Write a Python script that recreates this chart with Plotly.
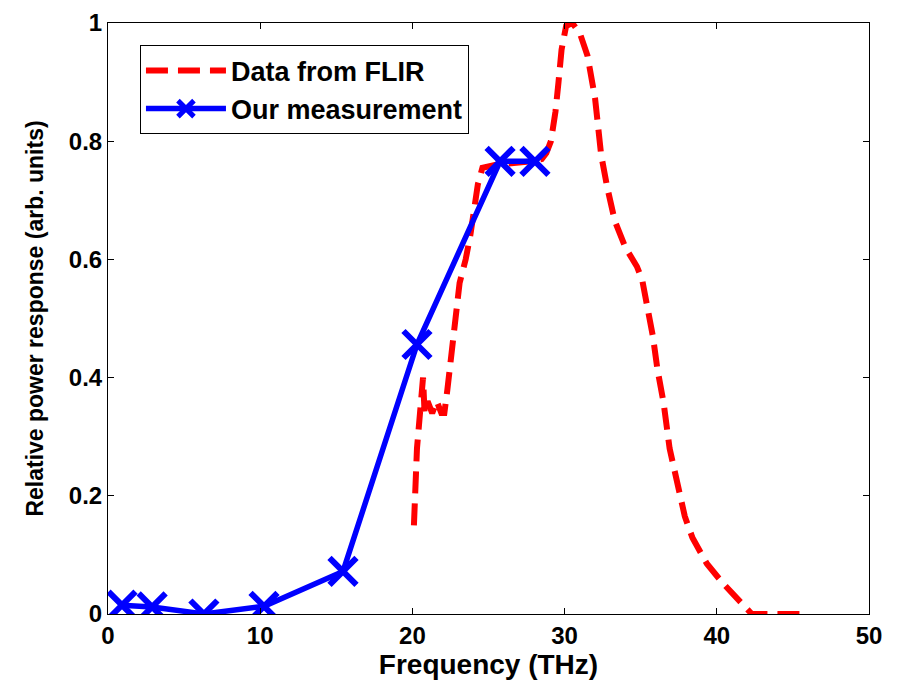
import plotly.graph_objects as go

# Data from FLIR (red dashed)
flir_x = [20.1, 20.3, 20.5, 20.7, 20.8, 21.0, 21.3, 21.6, 21.9, 22.1, 22.3, 22.6, 22.8, 23.1, 23.5, 23.8,
          24.3, 24.6, 25.5, 26.5, 27.5, 28.5, 28.8, 29.1, 29.4, 29.6, 29.8, 30.1, 30.5, 31.0, 31.5,
          32.0, 32.4, 32.8, 33.3, 34.0, 34.75, 35.1, 35.4, 35.8, 36.1, 36.5, 36.9, 37.4, 37.9, 38.4,
          39.35, 40.4, 41.5, 42.3, 43.0, 44.0, 45.9]
flir_y = [0.15, 0.28, 0.34, 0.40, 0.34, 0.36, 0.34, 0.36, 0.34, 0.34, 0.38, 0.44, 0.487, 0.56, 0.60, 0.64,
          0.727, 0.755, 0.76, 0.762, 0.765, 0.77, 0.78, 0.80, 0.85, 0.90, 0.955, 0.995, 1.0, 0.983, 0.945,
          0.873, 0.777, 0.722, 0.665, 0.62, 0.588, 0.565, 0.526, 0.47, 0.414, 0.358, 0.28, 0.22, 0.165, 0.129,
          0.085, 0.052, 0.023, 0.0, 0.0, 0.0, 0.0]

# Our measurement (blue, x markers)
meas_x = [0.92, 2.9, 6.3, 10.25, 15.44, 20.3, 25.76, 28.05]
meas_y = [0.015, 0.012, 0.0, 0.013, 0.072, 0.456, 0.766, 0.766]

x_ticks = [0, 10, 20, 30, 40, 50]
y_ticks = [0, 0.2, 0.4, 0.6, 0.8, 1]
y_tick_labels = ["0", "0.2", "0.4", "0.6", "0.8", "1"]

font_family = "Liberation Sans, Arial, sans-serif"

fig = go.Figure()
fig.add_trace(go.Scatter(
    x=flir_x, y=flir_y, mode="lines", name="<b>Data from FLIR</b>",
    line=dict(color="#ff0000", width=6, dash="22px,10px"),
))
fig.add_trace(go.Scatter(
    x=meas_x, y=meas_y, mode="lines+markers", name="<b>Our measurement</b>",
    line=dict(color="#0000ff", width=5.5),
    marker=dict(symbol="x-thin", size=27, color="#0000ff",
                line=dict(color="#0000ff", width=6)),
))

axis_common = dict(
    showgrid=False, zeroline=False, showline=True, linecolor="black", linewidth=1,
    mirror="ticks", ticks="inside", ticklen=6, tickcolor="black", tickwidth=1,
    automargin=False,
    tickfont=dict(family=font_family, size=24, color="black", weight="bold"),
)

fig.update_layout(
    width=881, height=672,
    margin=dict(l=100, r=20, t=15, b=66),
    plot_bgcolor="white", paper_bgcolor="white",
    font=dict(family=font_family, color="black"),
    xaxis=dict(range=[0, 50], tickvals=x_ticks,
               title=dict(text="<b>Frequency (THz)</b>", font=dict(family=font_family, size=28), standoff=2),
               **axis_common),
    yaxis=dict(range=[0, 1], tickvals=y_ticks, ticktext=y_tick_labels,
               title=dict(text="<b>Relative power response (arb. units)</b>", font=dict(family=font_family, size=23), standoff=18),
               **axis_common),
    legend=dict(x=0.042, y=0.962, xanchor="left", yanchor="top",
                bgcolor="white", bordercolor="black", borderwidth=1,
                font=dict(family=font_family, size=27, color="black"),
                itemwidth=80, tracegroupgap=0),
    showlegend=True,
)

fig.write_html("out.html")
